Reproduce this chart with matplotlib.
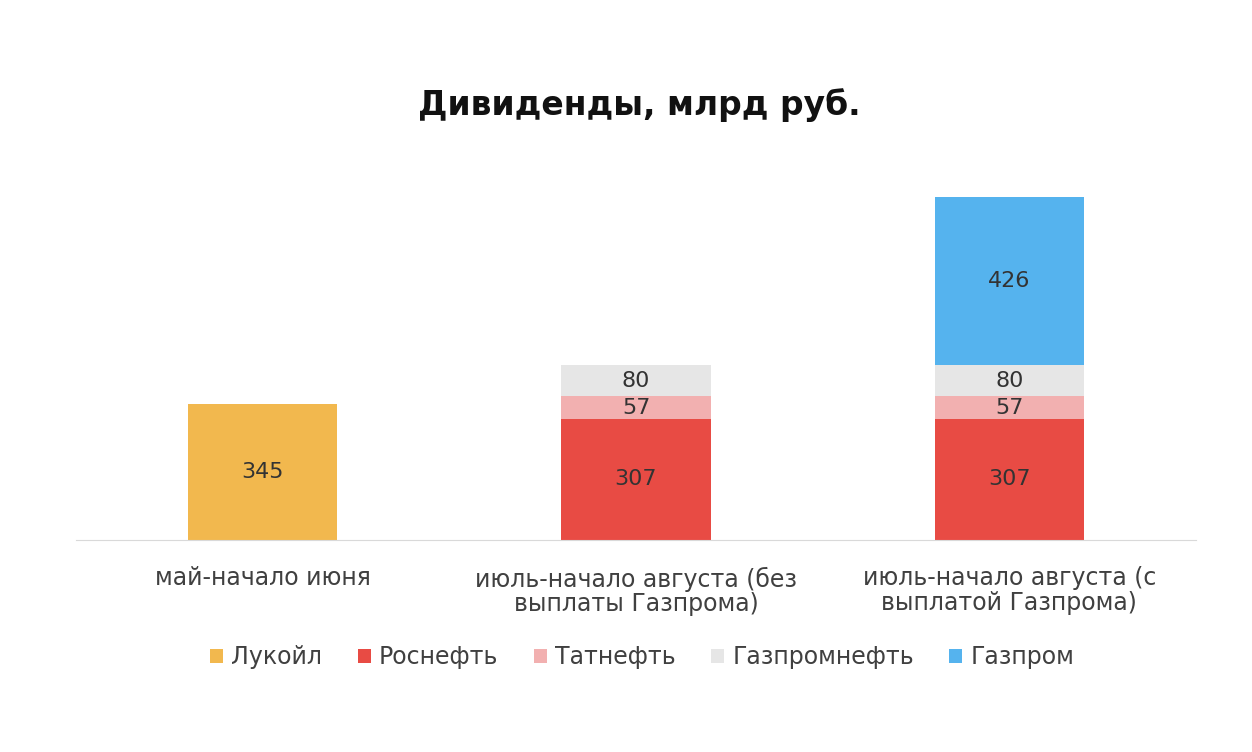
import matplotlib
matplotlib.use("Agg")
import matplotlib.pyplot as plt
import numpy as np

categories = ["май-начало июня",
              "июль-начало августа (без\nвыплаты Газпрома)",
              "июль-начало августа (с\nвыплатой Газпрома)"]
series_names = ["Лукойл", "Роснефть", "Татнефть", "Газпромнефть", "Газпром"]
lukoil = [345, 0, 0]
rosneft = [0, 307, 307]
tatneft = [0, 57, 57]
gazpromneft = [0, 80, 80]
gazprom = [0, 0, 426]
colors = ["#F2B84E", "#E84B44", "#F2B0B0", "#E6E6E6", "#55B3EE"]

plt.rcParams['font.family'] = ['DejaVu Sans']
fig = plt.figure(figsize=(12.52, 7.52), dpi=100)
ax = fig.add_axes([76/1252, 1-540/752, 1120/1252, 343/752])

x = np.arange(len(categories))
bottom = np.zeros(len(categories))
txt = "#333333"
for name, vals, c in zip(series_names, [lukoil, rosneft, tatneft, gazpromneft, gazprom], colors):
    vals = np.array(vals, dtype=float)
    ax.bar(x, vals, 0.4, bottom=bottom, color=c, label=name)
    for xi, v, b in zip(x, vals, bottom):
        if v > 0:
            ax.text(xi, b + v/2, f"{int(v)}", ha="center", va="center", fontsize=16, color=txt)
    bottom += vals

ax.set_xlim(-0.5, 2.5)
ax.set_ylim(0, 870)
ax.set_yticks([])
for s in ["top", "right", "left"]:
    ax.spines[s].set_visible(False)
ax.spines["bottom"].set_color("#D9D9D9")
ax.set_xticks(x)
ax.set_xticklabels(categories, fontsize=17, color="#404040", linespacing=1.05)
ax.tick_params(axis="x", length=0, pad=19)

fig.text(0.511, 1-105/752, "Дивиденды, млрд руб.", ha="center", va="center",
         fontsize=23.8, fontweight="bold", color="#111111")

leg = fig.legend(loc="center", bbox_to_anchor=(0.513, 1-657/752), ncol=5, frameon=False,
                 fontsize=17, handlelength=0.55, handleheight=0.55, handletextpad=0.35,
                 columnspacing=1.5, labelcolor="#404040")

fig.savefig("out.png", dpi=100, facecolor="white")
